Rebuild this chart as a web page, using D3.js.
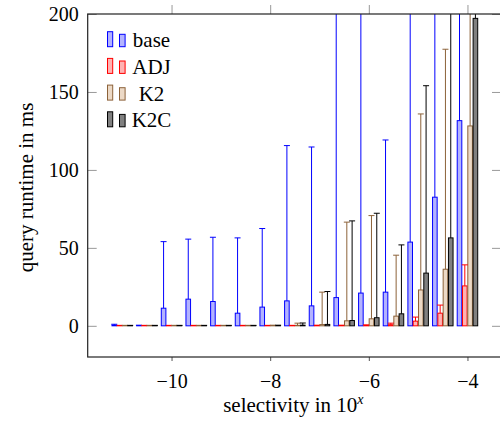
<!DOCTYPE html>
<html>
<head>
<meta charset="utf-8">
<script src="https://cdn.jsdelivr.net/npm/d3@7"></script>
<style>
  html, body { margin: 0; padding: 0; background: #fff; }
  svg { display: block; }
  text { font-family: "Liberation Serif", "DejaVu Serif", serif; fill: #000; }
</style>
</head>
<body>
<svg id="chart" width="500" height="421"></svg>
<script>
// ---- data ----
const selectivity = [-11, -10.5, -10, -9.5, -9, -8.5, -8, -7.5, -7, -6.5, -6, -5.5, -5, -4.5, -4];
const seriesNames = ["base", "ADJ", "K2", "K2C"];

const baseValues = [0.4, 0.2, 11.3, 17.1, 15.6, 8.1, 12.0, 16.0, 12.8, 18.1, 21.0, 21.6, 53.7, 82.5, 131.6];
const baseErrors = [0.6, 0.2, 42.7, 38.5, 41.2, 48.3, 50.4, 99.6, 101.9, 300, 300, 97.6, 300, 300, 300];

const adjValues = [0.2, 0.2, 0.2, 0.2, 0.2, 0.2, 0.2, 0.2, 0.2, 0.2, 0.3, 0.7, 3.0, 8.1, 25.6];
const adjErrors = [0.1, 0.1, 0.1, 0.1, 0.1, 0.1, 0.1, 0.1, 0.2, 0.2, 0.3, 1.0, 2.6, 5.2, 13.5];

const k2Values = [0.2, 0.2, 0.2, 0.2, 0.2, 0.2, 0.2, 0.3, 0.8, 3.2, 4.5, 6.2, 23.0, 36.3, 128.2];
const k2Errors = [0.1, 0.1, 0.1, 0.1, 0.1, 0.1, 0.2, 1.4, 20.8, 63.3, 66.2, 39.1, 112.9, 141.1, 300];

const k2cValues = [0.2, 0.2, 0.2, 0.2, 0.2, 0.2, 0.2, 0.4, 0.9, 3.4, 5.2, 7.7, 33.8, 56.4, 197.2];
const k2cErrors = [0.1, 0.1, 0.1, 0.1, 0.1, 0.1, 0.2, 1.4, 21.1, 63.9, 67.0, 44.2, 120.2, 300, 300];

const yTicks = [0, 50, 100, 150, 200];
const xTicks = [-10, -8, -6, -4];

// ---- styles ----
const fills   = {base: "#b3b3ff", ADJ: "#ffb3b3", K2: "#ecd9c6", K2C: "#808080"};
const strokes = {base: "#0000ff", ADJ: "#ff0000", K2: "#8c6239", K2C: "#000000"};

const seriesValues = {base: baseValues, ADJ: adjValues, K2: k2Values, K2C: k2cValues};
const seriesErrors = {base: baseErrors, ADJ: adjErrors, K2: k2Errors, K2C: k2cErrors};

const svg = d3.select("#chart");
const pLeft = 87.7, pRight = 501, pTop = 14, pBottom = 357;

const x = d3.scaleLinear().domain([-11.7, -3.32]).range([pLeft, pRight]);
const y = d3.scaleLinear().domain([-20, 200]).range([pBottom, pTop]);
const offset = d3.scaleBand().domain(seriesNames).range([-10.6, 10.6]);
const barW = 4.6;

svg.append("defs").append("clipPath").attr("id", "clip")
  .append("rect").attr("x", pLeft).attr("y", pTop).attr("width", pRight - pLeft).attr("height", pBottom - pTop);

const plot = svg.append("g").attr("clip-path", "url(#clip)");

const rows = [];
seriesNames.forEach(s => {
  selectivity.forEach((sx, i) => {
    rows.push({s, sx, v: seriesValues[s][i], e: seriesErrors[s][i]});
  });
});

const cx = d => x(d.sx) + offset(d.s) + offset.bandwidth() / 2;

plot.selectAll("rect.bar").data(rows).join("rect")
  .attr("class", "bar")
  .attr("x", d => cx(d) - barW / 2)
  .attr("y", d => y(d.v))
  .attr("width", barW)
  .attr("height", d => y(0) - y(d.v))
  .attr("fill", d => fills[d.s])
  .attr("stroke", d => strokes[d.s])
  .attr("stroke-width", 1);

const eb = plot.selectAll("g.err").data(rows).join("g").attr("class", "err");
eb.append("line")
  .attr("x1", d => cx(d)).attr("x2", d => cx(d))
  .attr("y1", d => y(d.v)).attr("y2", d => y(d.v + d.e))
  .attr("stroke", d => strokes[d.s]).attr("stroke-width", 1);
eb.append("line")
  .attr("x1", d => cx(d) - 3).attr("x2", d => cx(d) + 3)
  .attr("y1", d => y(d.v + d.e)).attr("y2", d => y(d.v + d.e))
  .attr("stroke", d => strokes[d.s]).attr("stroke-width", 1);

// ---- axes ----
const fmt = v => (v < 0 ? "\u2212" + Math.abs(v) : String(v));

const gl = svg.append("g").attr("transform", `translate(${pLeft},0)`)
  .call(d3.axisLeft(y).tickValues(yTicks).tickSize(-9).tickPadding(9));
gl.select(".domain").remove();
gl.selectAll(".tick line").attr("stroke", "#999");
gl.selectAll(".tick text").attr("font-size", 20).attr("font-family", "Liberation Serif");

const gr = svg.append("g").attr("transform", `translate(${pRight},0)`)
  .call(d3.axisRight(y).tickValues(yTicks).tickSize(-9).tickFormat(""));
gr.select(".domain").remove();
gr.selectAll(".tick line").attr("stroke", "#999");

const gb = svg.append("g").attr("transform", `translate(0,${pBottom})`)
  .call(d3.axisBottom(x).tickValues(xTicks).tickSize(4).tickPadding(13).tickFormat(fmt));
gb.select(".domain").remove();
gb.selectAll(".tick line").attr("stroke", "#555");
gb.selectAll(".tick text").attr("font-size", 20).attr("font-family", "Liberation Serif");

const gt = svg.append("g").attr("transform", `translate(0,${pTop})`)
  .call(d3.axisTop(x).tickValues(xTicks).tickSize(9).tickFormat(""));
gt.select(".domain").remove();
gt.selectAll(".tick line").attr("stroke", "#999");

svg.append("rect")
  .attr("x", pLeft).attr("y", pTop).attr("width", pRight - pLeft).attr("height", pBottom - pTop)
  .attr("fill", "none").attr("stroke", "#222").attr("stroke-width", 1.2);

svg.append("text")
  .attr("transform", `translate(26,${(pTop + pBottom) / 2 + 2}) rotate(-90)`)
  .attr("text-anchor", "middle").attr("dy", "0.35em")
  .attr("font-size", 21)
  .text("query runtime in ms");

const xt = svg.append("text")
  .attr("x", (pLeft + pRight) / 2 - 1).attr("y", 412)
  .attr("text-anchor", "middle").attr("font-size", 21);
xt.append("tspan").text("selectivity in 10");
xt.append("tspan").attr("font-style", "italic").attr("font-size", 14).attr("dy", -8).text("x");

// ---- legend ----
const legend = svg.append("g");
seriesNames.forEach((s, i) => {
  const by = 46.7 + i * 26.7;
  const g = legend.append("g");
  g.append("rect").attr("x", 107.5).attr("y", by - 15).attr("width", 5.2).attr("height", 15)
    .attr("fill", fills[s]).attr("stroke", strokes[s]).attr("stroke-width", 1);
  g.append("rect").attr("x", 119.5).attr("y", by - 12.4).attr("width", 5.6).attr("height", 12.4)
    .attr("fill", fills[s]).attr("stroke", strokes[s]).attr("stroke-width", 1);
  g.append("text").attr("x", 151.5).attr("y", by + 0.5)
    .attr("text-anchor", "middle").attr("font-size", 21).text(s);
});
</script>
</body>
</html>
